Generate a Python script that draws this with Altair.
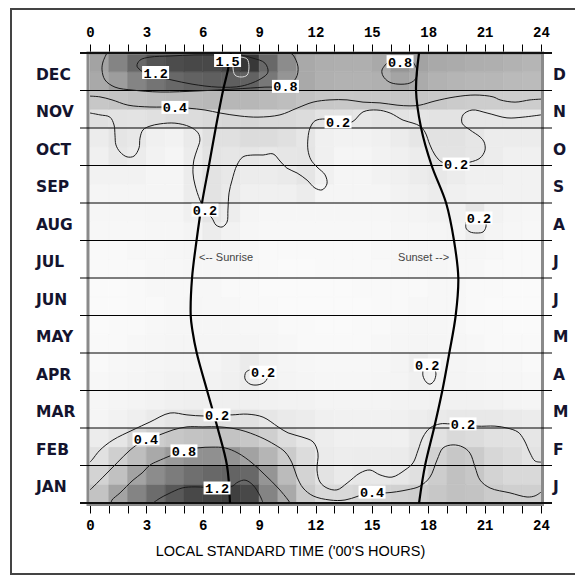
import altair as alt
import pandas as pd

MONTHS = ["JAN", "FEB", "MAR", "APR", "MAY", "JUN", "JUL", "AUG", "SEP", "OCT", "NOV", "DEC"]
HOUR_TICKS = list(range(25))
X_TITLE = "LOCAL STANDARD TIME ('00'S HOURS)"

# shading level per hour (0..23); one list per half month, early January at the bottom
jan_1 = [0.48,0.75,0.95,1.10,1.22,1.30,1.32,1.34,1.30,0.95,0.70,0.42,0.30,0.30,0.33,0.36,0.37,0.40,0.45,0.50,0.48,0.42,0.38,0.38]
jan_2 = [0.35,0.50,0.75,0.90,1.00,1.08,1.12,1.15,1.12,0.85,0.55,0.35,0.22,0.17,0.19,0.18,0.19,0.25,0.40,0.50,0.45,0.35,0.30,0.30]
feb_1 = [0.24,0.38,0.52,0.70,0.82,0.87,0.88,0.86,0.76,0.60,0.42,0.28,0.16,0.14,0.15,0.15,0.16,0.22,0.36,0.45,0.42,0.32,0.28,0.22]
feb_2 = [0.15,0.20,0.32,0.40,0.45,0.48,0.50,0.48,0.45,0.38,0.27,0.20,0.14,0.12,0.12,0.12,0.12,0.18,0.23,0.30,0.28,0.24,0.23,0.20]
mar_1 = [0.08,0.10,0.13,0.17,0.21,0.24,0.25,0.25,0.24,0.20,0.17,0.15,0.12,0.11,0.11,0.11,0.12,0.14,0.17,0.18,0.18,0.18,0.17,0.15]
mar_2 = [0.07,0.08,0.09,0.10,0.12,0.13,0.13,0.13,0.12,0.11,0.10,0.10,0.09,0.09,0.09,0.09,0.10,0.10,0.11,0.11,0.11,0.10,0.09,0.08]
apr_1 = [0.06,0.07,0.08,0.09,0.10,0.10,0.10,0.12,0.15,0.10,0.09,0.08,0.07,0.07,0.07,0.08,0.09,0.12,0.10,0.09,0.08,0.07,0.07,0.06]
apr_2 = [0.05,0.06,0.07,0.08,0.09,0.09,0.09,0.11,0.16,0.10,0.08,0.07,0.06,0.06,0.06,0.07,0.09,0.15,0.10,0.08,0.07,0.06,0.06,0.05]
may_1 = [0.05,0.05,0.06,0.07,0.08,0.08,0.08,0.08,0.08,0.07,0.06,0.05,0.05,0.05,0.05,0.06,0.07,0.08,0.08,0.07,0.06,0.05,0.05,0.05]
may_2 = [0.04,0.05,0.05,0.06,0.07,0.07,0.07,0.07,0.06,0.06,0.05,0.05,0.04,0.04,0.05,0.05,0.06,0.07,0.07,0.06,0.05,0.05,0.04,0.04]
jun_1 = [0.04,0.04,0.05,0.05,0.06,0.07,0.06,0.06,0.05,0.05,0.04,0.04,0.04,0.04,0.04,0.05,0.05,0.06,0.06,0.06,0.05,0.04,0.04,0.04]
jun_2 = [0.04,0.04,0.05,0.06,0.06,0.06,0.06,0.05,0.05,0.04,0.04,0.04,0.04,0.04,0.05,0.05,0.05,0.05,0.06,0.06,0.05,0.05,0.04,0.04]
jul_1 = [0.05,0.05,0.05,0.06,0.06,0.07,0.07,0.06,0.05,0.05,0.04,0.04,0.05,0.05,0.05,0.05,0.06,0.06,0.07,0.06,0.06,0.05,0.05,0.05]
jul_2 = [0.05,0.05,0.06,0.06,0.07,0.08,0.08,0.07,0.06,0.05,0.05,0.05,0.05,0.05,0.05,0.06,0.06,0.07,0.07,0.07,0.07,0.06,0.05,0.05]
aug_1 = [0.06,0.06,0.06,0.07,0.07,0.09,0.15,0.10,0.07,0.06,0.06,0.06,0.06,0.06,0.06,0.06,0.07,0.07,0.08,0.09,0.15,0.09,0.07,0.06]
aug_2 = [0.07,0.07,0.07,0.08,0.08,0.12,0.21,0.14,0.08,0.07,0.07,0.07,0.07,0.07,0.07,0.07,0.08,0.09,0.10,0.11,0.20,0.10,0.08,0.07]
sep_1 = [0.08,0.08,0.08,0.08,0.08,0.15,0.22,0.17,0.12,0.12,0.12,0.15,0.08,0.08,0.08,0.08,0.10,0.12,0.15,0.12,0.10,0.10,0.10,0.10]
sep_2 = [0.10,0.10,0.10,0.08,0.08,0.15,0.22,0.18,0.15,0.15,0.17,0.21,0.12,0.08,0.08,0.10,0.12,0.15,0.18,0.15,0.12,0.12,0.10,0.10]
oct_1 = [0.12,0.18,0.15,0.10,0.08,0.15,0.22,0.20,0.20,0.18,0.20,0.21,0.12,0.08,0.08,0.10,0.12,0.15,0.22,0.22,0.20,0.15,0.12,0.12]
oct_2 = [0.15,0.21,0.18,0.12,0.10,0.17,0.25,0.25,0.28,0.28,0.25,0.20,0.12,0.10,0.10,0.12,0.15,0.20,0.23,0.23,0.20,0.15,0.15,0.15]
nov_1 = [0.25,0.23,0.22,0.25,0.28,0.28,0.30,0.32,0.32,0.30,0.30,0.28,0.22,0.22,0.20,0.22,0.22,0.21,0.22,0.22,0.20,0.20,0.20,0.20]
nov_2 = [0.45,0.47,0.50,0.53,0.55,0.56,0.57,0.58,0.58,0.56,0.52,0.48,0.45,0.44,0.45,0.45,0.46,0.46,0.44,0.42,0.40,0.40,0.40,0.40]
dec_1 = [0.70,0.80,0.95,1.05,1.12,1.16,1.18,1.18,1.16,1.02,0.85,0.70,0.64,0.62,0.62,0.64,0.74,0.68,0.62,0.60,0.58,0.58,0.56,0.55]
dec_2 = [0.75,0.95,1.12,1.24,1.28,1.30,1.30,1.33,1.38,1.12,0.90,0.70,0.66,0.65,0.65,0.70,0.85,0.75,0.70,0.68,0.66,0.65,0.62,0.60]
HEAT_ROWS = [jan_1, jan_2, feb_1, feb_2, mar_1, mar_2, apr_1, apr_2, may_1, may_2, jun_1, jun_2,
             jul_1, jul_2, aug_1, aug_2, sep_1, sep_2, oct_1, oct_2, nov_1, nov_2, dec_1, dec_2]

# contour lines: (hour, months since 1 Jan)
c08_dec = [(0.90,12.00),(0.69,11.76),(0.64,11.55),(0.80,11.28),(1.33,11.09),(2.29,11.01),(3.73,10.96),(5.85,10.99),(7.72,11.04),(9.31,11.09),(10.48,11.12),(10.96,11.33),(11.07,11.63),(10.80,11.95),(10.64,12.00)]
c12_dec = [(2.82,11.49),(2.50,11.65),(2.66,11.81),(3.19,11.89),(4.26,11.92),(5.59,11.95),(6.65,11.95),(7.72,11.97),(8.62,11.87),(9.31,11.73),(9.47,11.49),(9.15,11.33),(8.09,11.12),(6.81,11.09),(5.43,11.17),(4.36,11.28),(3.46,11.39),(2.82,11.49)]
c15_dec = [(8.04,11.89),(8.36,11.84),(8.46,11.63),(8.36,11.41),(8.04,11.36),(7.72,11.41),(7.61,11.63),(7.72,11.84),(8.04,11.89)]
c08_dec_pm = [(15.86,11.76),(15.54,11.55),(15.59,11.39),(15.91,11.23),(16.39,11.17),(17.03,11.20),(17.35,11.33),(17.40,11.55),(17.19,11.76)]
c04_nov = [(0.00,10.85),(0.53,10.83),(1.17,10.75),(2.02,10.61),(3.19,10.56),(4.52,10.56),(5.22,10.53),(6.12,10.48),(6.92,10.40),(7.98,10.32),(8.94,10.29),(10.11,10.35),(11.02,10.53),(11.87,10.69),(12.77,10.75),(13.68,10.75),(14.53,10.69),(15.43,10.67),(16.34,10.61),(17.03,10.59),(17.56,10.61),(18.36,10.72),(19.43,10.83),(20.49,10.88),(21.45,10.83),(21.82,10.75),(22.62,10.69),(23.42,10.75),(24.00,10.77)]
c02_oct = [(0.00,10.40),(0.53,10.35),(1.06,10.29),(1.28,10.08),(1.33,9.81),(1.38,9.55),(1.60,9.36),(1.97,9.23),(2.34,9.25),(2.61,9.47),(2.66,9.73),(2.82,9.95),(3.19,10.05),(3.73,10.11),(4.52,10.13),(5.32,10.03),(5.75,9.87),(5.85,9.68),(5.69,9.41),(5.53,9.15),(5.48,8.80),(5.59,8.48),(5.85,8.08),(6.12,7.81),(6.49,7.60),(6.71,7.41),(7.03,7.36),(7.29,7.49),(7.34,7.81),(7.40,8.27),(7.56,8.61),(7.82,9.01),(8.14,9.23),(8.67,9.28),(9.21,9.28),(9.74,9.31),(10.11,9.12),(10.48,8.93),(11.02,8.80),(11.55,8.61),(11.97,8.40),(12.35,8.35),(12.61,8.51),(12.51,8.75),(12.08,8.96),(11.76,9.15),(11.60,9.41),(11.60,9.73),(11.71,10.00),(11.97,10.19),(12.51,10.24),(13.20,10.16),(13.94,10.16),(14.53,10.43),(15.27,10.48),(15.97,10.40),(16.66,10.21),(17.19,10.13),(17.56,10.05),(17.83,9.89),(18.09,9.55),(18.36,9.28),(18.73,9.09),(19.48,9.04),(20.22,9.09),(20.76,9.20),(21.02,9.41),(20.97,9.63),(20.76,9.76),(20.22,9.95),(19.80,10.13),(19.85,10.35),(20.33,10.48),(21.13,10.40),(22.19,10.27),(23.04,10.29),(24.00,10.35)]
c02_aug = [(20.01,7.49),(20.01,7.33),(20.22,7.23),(20.60,7.20),(20.92,7.23),(21.07,7.36),(21.07,7.49)]
c02_apr_am = [(8.62,3.57),(8.30,3.49),(8.25,3.31),(8.52,3.17),(8.94,3.15),(9.31,3.23),(9.47,3.36)]
c02_apr_pm = [(17.72,3.55),(17.72,3.39),(17.88,3.23),(18.09,3.17),(18.30,3.25),(18.41,3.44),(18.36,3.55)]
c02_mar = [(0.00,1.09),(0.11,1.15),(0.53,1.41),(1.22,1.68),(2.29,1.95),(3.19,2.16),(4.26,2.40),(5.16,2.35),(6.07,2.32),(6.76,2.35),(7.56,2.35),(8.36,2.37),(9.21,2.29),(10.01,2.03),(10.54,1.87),(11.28,1.76),(11.87,1.63),(12.13,1.33),(12.08,0.88),(12.24,0.56),(12.61,0.40),(13.14,0.35),(13.68,0.53),(14.37,0.80),(14.90,0.88),(15.43,0.75),(16.07,0.69),(16.76,0.88),(17.19,1.07),(17.46,1.41),(17.72,1.76),(18.09,2.00),(18.63,2.11),(19.16,2.11),(19.85,2.11),(20.60,2.05),(21.55,2.05),(22.19,2.00),(22.78,1.89),(23.10,1.68),(23.42,1.33),(23.68,1.12),(24.00,1.09)]
c04_feb = [(0.00,0.35),(0.11,0.40),(0.69,0.69),(1.44,1.07),(2.13,1.41),(2.98,1.71),(3.67,1.81),(4.42,1.95),(5.16,2.03),(6.01,2.03),(6.92,2.03),(7.98,1.95),(9.05,1.76),(9.85,1.55),(10.38,1.36),(10.75,1.07),(11.02,0.69),(11.34,0.40),(11.87,0.19),(12.77,0.08),(13.57,0.08),(15.01,0.29),(15.75,0.27),(16.87,0.35),(17.56,0.45),(18.09,0.69),(18.47,1.15),(18.79,1.47),(19.32,1.55),(19.85,1.49),(20.22,1.33),(20.49,0.96),(20.76,0.61),(21.29,0.40),(22.35,0.27),(23.26,0.16),(23.68,0.19),(24.00,0.29)]
c08_feb = [(1.12,0.00),(1.17,0.08),(1.60,0.27),(2.29,0.61),(2.77,0.80),(3.19,1.01),(3.62,1.12),(5.00,1.39),(5.75,1.47),(6.49,1.49),(7.18,1.47),(7.88,1.33),(8.62,1.07),(9.31,0.75),(10.01,0.40),(10.54,0.08),(10.64,0.00)]
c12_jan = [(3.35,0.00),(3.73,0.13),(4.15,0.24),(4.90,0.40),(5.59,0.43),(6.76,0.40),(7.50,0.43),(7.88,0.56),(8.25,0.61),(8.67,0.48),(9.05,0.19),(9.21,0.00)]
CONTOURS = [("c08_dec", c08_dec, "dark"), ("c12_dec", c12_dec, "dark"), ("c15_dec", c15_dec, "light"),
            ("c08_dec_pm", c08_dec_pm, "dark"), ("c04_nov", c04_nov, "dark"), ("c02_oct", c02_oct, "dark"),
            ("c02_aug", c02_aug, "dark"), ("c02_apr_am", c02_apr_am, "dark"), ("c02_apr_pm", c02_apr_pm, "dark"),
            ("c02_mar", c02_mar, "dark"), ("c04_feb", c04_feb, "dark"), ("c08_feb", c08_feb, "dark"),
            ("c12_jan", c12_jan, "dark")]

LABEL_TEXT = ["1.2", "1.5", "0.8", "0.8", "0.4", "0.2", "0.2", "0.2", "0.2", "0.2", "0.2", "0.2", "0.2", "0.4", "0.8", "0.4", "1.2"]
LABEL_H = [3.49, 7.32, 10.40, 16.50, 4.52, 13.20, 19.48, 6.12, 20.70, 9.21, 17.94, 6.76, 19.85, 2.98, 5.00, 15.01, 6.76]
LABEL_T = [11.48, 11.80, 11.11, 11.77, 10.55, 10.16, 9.04, 7.81, 7.60, 3.49, 3.68, 2.35, 2.11, 1.71, 1.39, 0.29, 0.40]

sunrise_t = [0, 1, 2, 3, 4, 4.6, 5, 6, 7, 8, 9, 10, 11, 11.55, 12]
sunrise_h = [7.45, 7.29, 6.79, 6.23, 5.68, 5.45, 5.36, 5.43, 5.67, 5.96, 6.33, 6.69, 7.08, 7.34, 7.50]
sunset_t = [0, 1, 2, 3, 4, 5, 6, 7, 8, 9, 10, 11, 12]
sunset_h = [17.51, 17.83, 18.31, 18.75, 19.12, 19.46, 19.60, 19.37, 18.95, 18.18, 17.62, 17.35, 17.51]

NOTE_TEXT = ["<-- Sunrise", "Sunset -->"]
NOTE_H = [5.80, 19.11]
NOTE_T = [6.53, 6.53]

# ---------------- tables ----------------
heat = pd.DataFrame([
    {"h0": h, "h1": h + 1, "t0": r * 0.5, "t1": r * 0.5 + 0.5, "v": v}
    for r, row in enumerate(HEAT_ROWS) for h, v in enumerate(row)
])
lines = pd.DataFrame([
    {"cid": name, "i": i, "h": p[0], "t": p[1], "tone": tone}
    for name, pts, tone in CONTOURS for i, p in enumerate(pts)
])
labels = pd.DataFrame({"txt": LABEL_TEXT, "h": LABEL_H, "t": LABEL_T})
sun = pd.concat([
    pd.DataFrame({"which": "sunrise", "t": sunrise_t, "h": sunrise_h}),
    pd.DataFrame({"which": "sunset", "t": sunset_t, "h": sunset_h}),
])
notes = pd.DataFrame({"txt": NOTE_TEXT, "h": NOTE_H, "t": NOTE_T})
months = pd.DataFrame({"m": MONTHS, "tc": [i + 0.5 for i in range(12)]})
inner_bounds = pd.DataFrame({"b": list(range(1, 12))})
edge_bounds = pd.DataFrame({"b": [0, 12]})
one = pd.DataFrame({"k": [0]})

xs = alt.Scale(domain=[0, 24], nice=False, zero=False)
ys = alt.Scale(domain=[0, 12], nice=False, zero=False)
gray = alt.Scale(domain=[0, 0.2, 0.4, 0.8, 1.2, 1.5],
                 range=["#ffffff", "#e6e6e6", "#cdcdcd", "#9d9d9d", "#5c5c5c", "#222222"],
                 clamp=True)

label_expr = "datum.value % 3 == 0 ? datum.label : ''"
axis_common = dict(values=HOUR_TICKS, labelExpr=label_expr, domain=False, grid=False,
                   tickColor="black", tickWidth=1, labelFont="Liberation Mono",
                   labelFontWeight="bold", labelFontSize=14, labelColor="black",
                   labelBaseline="alphabetic", labelFlush=False, labelOverlap=False,
                   labelBound=False)
axis_bottom = alt.Axis(orient="bottom", tickSize=10, labelPadding=16, title=X_TITLE,
                       titleFont="Liberation Sans", titleFontSize=14.5, titleFontWeight="normal",
                       titleColor="black", titleX=200, titleY=52, titleBaseline="alphabetic",
                       titleAlign="center", **axis_common)
axis_top = alt.Axis(orient="top", tickSize=9, labelPadding=8, title=None, **axis_common)

heat_layer = alt.Chart(heat).mark_rect(strokeWidth=0.6).encode(
    x=alt.X("h0:Q", scale=xs, axis=axis_bottom),
    x2="h1",
    y=alt.Y("t0:Q", scale=ys, axis=None),
    y2="t1",
    color=alt.Color("v:Q", scale=gray, legend=None),
    stroke=alt.Stroke("v:Q", scale=gray, legend=None),
)

plot_frame = alt.Chart(one).mark_rect(fillOpacity=0, stroke="#8a8a8a", strokeWidth=3).encode(
    x=alt.value(-2), x2=alt.value(452.5), y=alt.value(0), y2=alt.value(451.5))

rules_inner = alt.Chart(inner_bounds).mark_rule(color="black", strokeWidth=1).encode(
    y=alt.Y("b:Q", scale=ys, axis=None), x=alt.value(-10), x2=alt.value(462))
rules_edge = alt.Chart(edge_bounds).mark_rule(color="#111111", strokeWidth=2).encode(
    y=alt.Y("b:Q", scale=ys, axis=None), x=alt.value(-10), x2=alt.value(462))

contour_layer = alt.Chart(lines).mark_line(strokeWidth=1, interpolate="catmull-rom").encode(
    x=alt.X("h:Q", scale=xs, axis=axis_top),
    y=alt.Y("t:Q", scale=ys, axis=None),
    detail="cid:N",
    order="i:Q",
    color=alt.Color("tone:N", scale=alt.Scale(domain=["dark", "light"], range=["#1a1a1a", "#dcdcdc"]), legend=None),
)

sun_layer = alt.Chart(sun).mark_line(strokeWidth=2.2, color="black", interpolate="catmull-rom").encode(
    x=alt.X("h:Q", scale=xs, axis=None),
    y=alt.Y("t:Q", scale=ys, axis=None),
    detail="which:N",
    order="t:Q",
)

box_layer = alt.Chart(labels).mark_point(
    shape="M-1,-0.48H1V0.48H-1Z", filled=True, fill="white", opacity=1, size=729, strokeWidth=0
).encode(x=alt.X("h:Q", scale=xs, axis=None), y=alt.Y("t:Q", scale=ys, axis=None))

text_layer = alt.Chart(labels).mark_text(
    font="Liberation Mono", fontWeight="bold", fontSize=13.5, color="black", baseline="middle", dy=1
).encode(x=alt.X("h:Q", scale=xs, axis=None), y=alt.Y("t:Q", scale=ys, axis=None), text="txt:N")

note_rise = alt.Chart(notes.iloc[[0]]).mark_text(
    font="Liberation Sans", fontSize=11, color="#444444", align="left", baseline="middle"
).encode(x=alt.X("h:Q", scale=xs, axis=None), y=alt.Y("t:Q", scale=ys, axis=None), text="txt:N")
note_set = alt.Chart(notes.iloc[[1]]).mark_text(
    font="Liberation Sans", fontSize=11, color="#444444", align="right", baseline="middle"
).encode(x=alt.X("h:Q", scale=xs, axis=None), y=alt.Y("t:Q", scale=ys, axis=None), text="txt:N")

month_left = alt.Chart(months).mark_text(
    font="DejaVu Sans", fontWeight="bold", fontSize=15.5, color="#14142e", align="left", baseline="middle", dy=3
).encode(x=alt.value(-54), y=alt.Y("tc:Q", scale=ys, axis=None), text="m:N")
month_right = alt.Chart(months).mark_text(
    font="DejaVu Sans", fontWeight="bold", fontSize=15.5, color="#14142e", align="left", baseline="middle",
    dy=3, limit=17, ellipsis="\u200b"
).encode(x=alt.value(463), y=alt.Y("tc:Q", scale=ys, axis=None), text="m:N")

# outer frame: top, left and bottom edges (the right edge lies beyond the picture)
frame_h = alt.Chart(one).mark_rule(color="#444444", strokeWidth=2)
frame_top = frame_h.encode(x=alt.value(-79), x2=alt.value(485), y=alt.value(-44))
frame_bottom = frame_h.encode(x=alt.value(-79), x2=alt.value(485), y=alt.value(521))
frame_left = frame_h.encode(x=alt.value(-79), y=alt.value(-45), y2=alt.value(522))

chart = alt.layer(
    heat_layer, plot_frame, rules_inner, rules_edge, contour_layer, sun_layer,
    box_layer, text_layer, note_rise, note_set, month_left, month_right,
    frame_top, frame_bottom, frame_left
).properties(
    width=451, height=450,
    padding={"left": 82, "top": 45, "right": 34, "bottom": 73},
    autosize=alt.AutoSizeParams(type="none"),
).configure_view(strokeWidth=0).configure(background="white")

chart.save("out.html", embed_options={"renderer": "svg", "actions": False})
